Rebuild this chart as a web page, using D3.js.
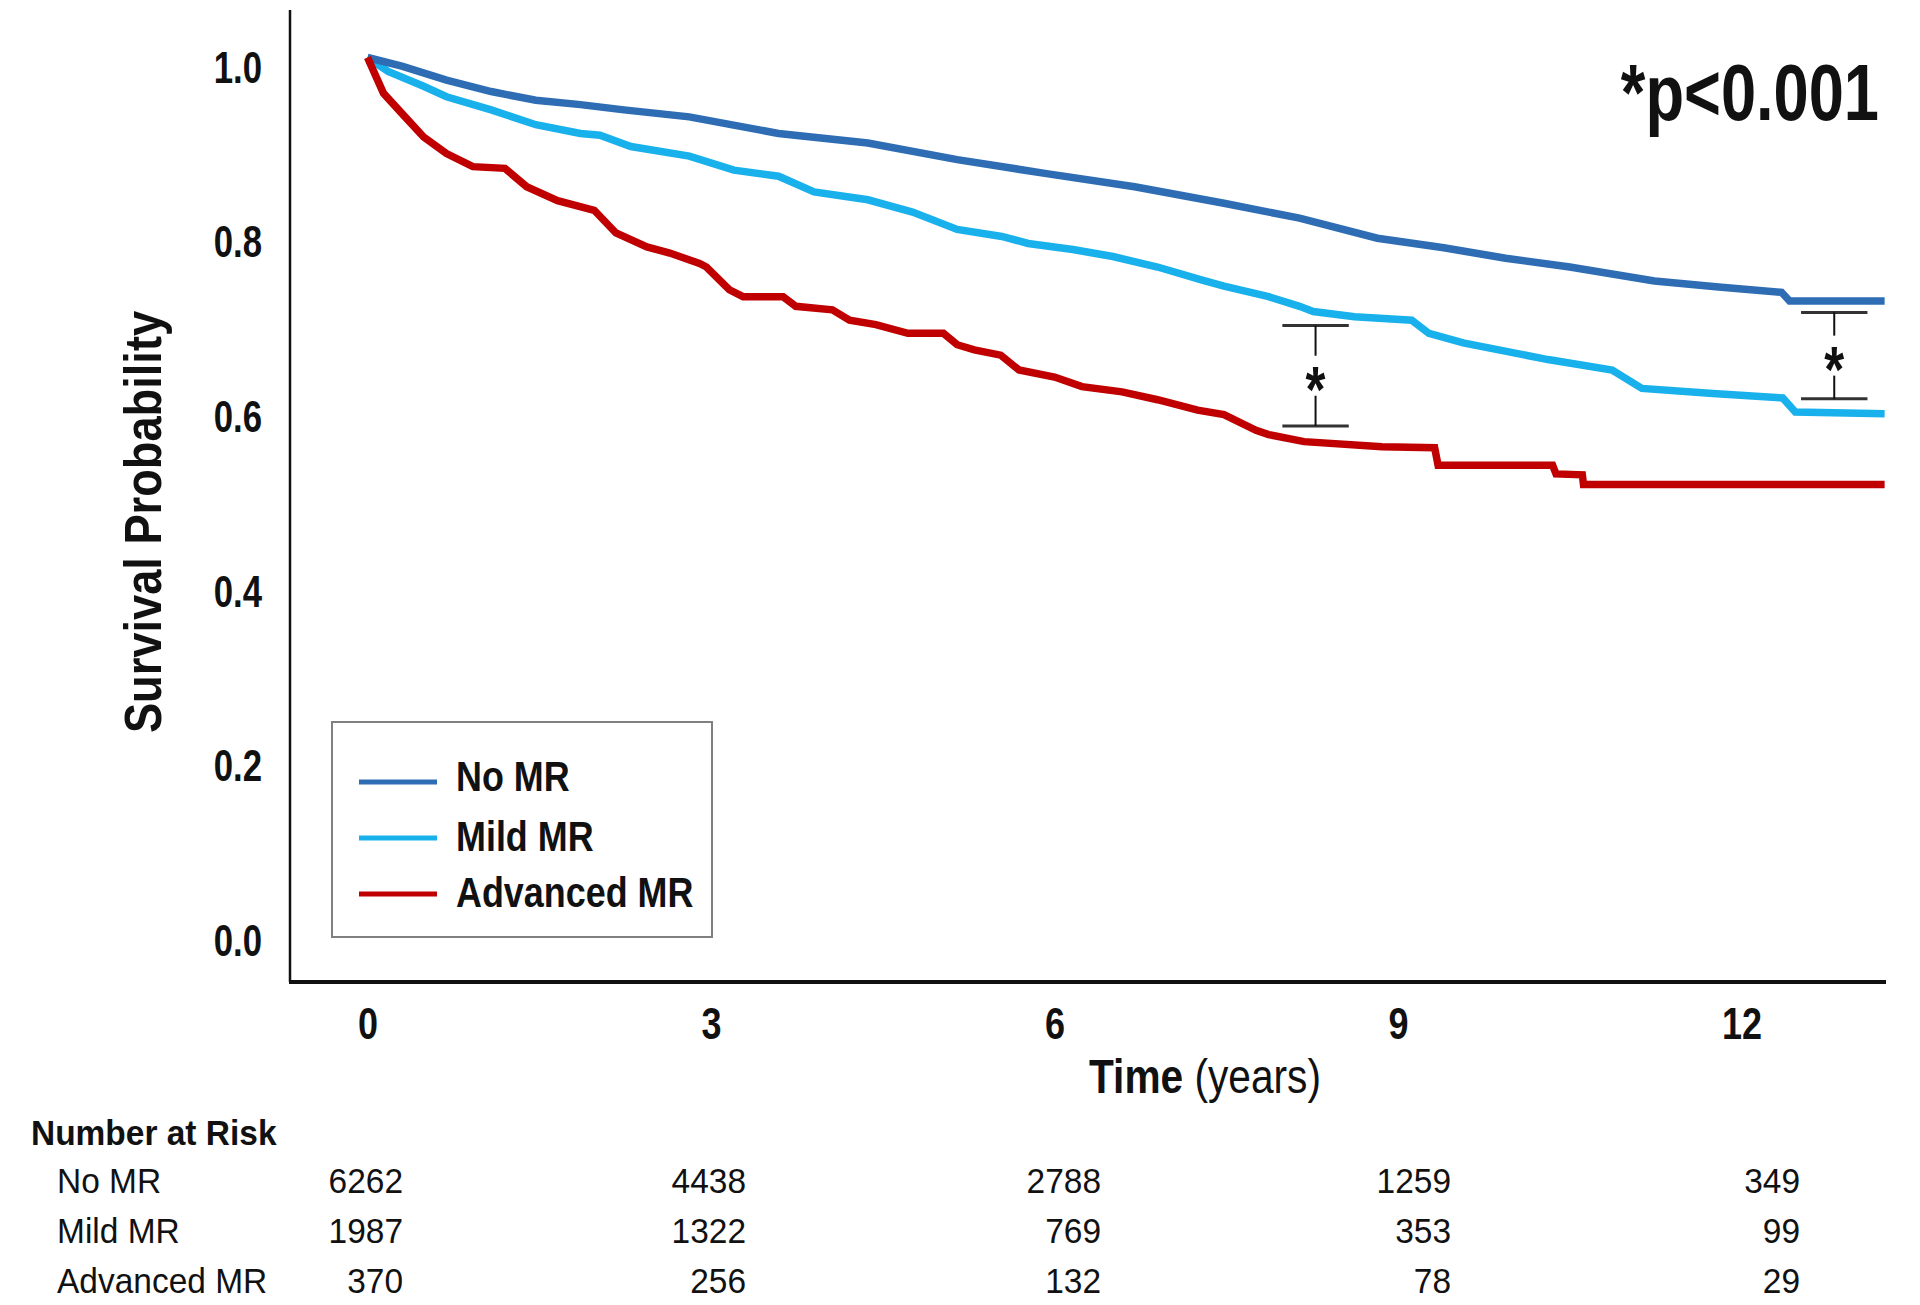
<!DOCTYPE html>
<html>
<head>
<meta charset="utf-8">
<script src="https://cdn.jsdelivr.net/npm/d3@7"></script>
<style>
  html, body { margin: 0; padding: 0; background: #ffffff; }
  svg { display: block; font-family: "Liberation Sans", Arial, Helvetica, sans-serif; }
</style>
</head>
<body>
<svg id="chart" width="1920" height="1305"></svg>
<script>
// ---------------- DATA ----------------
const categories = ["No MR", "Mild MR", "Advanced MR"];
const colors = ["#2E6DB4", "#19B1EC", "#C00000"];

// Kaplan-Meier curves: time (years) and survival probability
const noMrTime = [0, 0.30, 0.69, 1.08, 1.47, 1.86, 2.24, 2.81, 3.59, 4.37, 5.15, 5.93, 6.70, 7.48, 8.14, 8.82, 9.40, 9.94, 10.50, 11.24, 11.80, 12.35, 12.42, 13.25];
const noMrSurv = [1.0, 0.990, 0.974, 0.961, 0.951, 0.946, 0.940, 0.932, 0.913, 0.902, 0.883, 0.867, 0.852, 0.833, 0.816, 0.793, 0.782, 0.770, 0.760, 0.744, 0.737, 0.731, 0.721, 0.721];

const mildTime = [0, 0.18, 0.49, 0.69, 1.08, 1.47, 1.86, 2.03, 2.30, 2.81, 3.20, 3.59, 3.90, 4.37, 4.76, 5.15, 5.54, 5.77, 6.16, 6.51, 6.90, 7.29, 7.48, 7.87, 8.14, 8.26, 8.62, 9.12, 9.27, 9.57, 10.31, 10.87, 11.13, 11.75, 12.36, 12.47, 13.25];
const mildSurv = [1.0, 0.984, 0.967, 0.955, 0.940, 0.923, 0.913, 0.911, 0.898, 0.887, 0.871, 0.864, 0.846, 0.837, 0.823, 0.803, 0.795, 0.787, 0.780, 0.772, 0.760, 0.745, 0.738, 0.726, 0.715, 0.709, 0.703, 0.699, 0.684, 0.673, 0.654, 0.642, 0.621, 0.615, 0.610, 0.594, 0.592];

const advTime = [0, 0.14, 0.30, 0.49, 0.69, 0.92, 1.20, 1.39, 1.66, 1.98, 2.17, 2.44, 2.64, 2.90, 2.96, 3.16, 3.28, 3.63, 3.74, 4.06, 4.21, 4.44, 4.72, 5.03, 5.15, 5.30, 5.53, 5.69, 6.00, 6.24, 6.59, 6.90, 7.25, 7.48, 7.76, 7.87, 8.18, 8.86, 9.32, 9.35, 10.35, 10.38, 10.61, 10.62, 13.25];
const advSurv = [1.0, 0.959, 0.936, 0.909, 0.890, 0.875, 0.873, 0.852, 0.836, 0.825, 0.799, 0.783, 0.776, 0.764, 0.760, 0.734, 0.726, 0.726, 0.715, 0.711, 0.699, 0.694, 0.684, 0.684, 0.671, 0.665, 0.659, 0.642, 0.634, 0.623, 0.617, 0.608, 0.596, 0.591, 0.573, 0.568, 0.560, 0.554, 0.553, 0.533, 0.533, 0.523, 0.522, 0.511, 0.511];

// Axis ticks
const xTicks = [0, 3, 6, 9, 12];
const yTicks = [0.0, 0.2, 0.4, 0.6, 0.8, 1.0];

// Number at risk at each x tick
const riskNoMr = [6262, 4438, 2788, 1259, 349];
const riskMild = [1987, 1322, 769, 353, 99];
const riskAdv  = [370, 256, 132, 78, 29];

// Significance brackets (time, upper and lower survival)
const bracketTime  = [8.28, 12.81];
const bracketUpper = [0.693, 0.708];
const bracketLower = [0.578, 0.609];

const pText = "*p<0.001";

// ---------------- LAYOUT ----------------
const svg = d3.select("#chart");
const frame = { left: 290, top: 10, right: 1886, bottom: 982 };
const x = d3.scaleLinear().domain([0, 12]).range([367.5, 1741.5]);
const y = d3.scaleLinear().domain([0, 1]).range([930.5, 57.5]);
const riskX = d3.scaleLinear().domain(xTicks).range([403, 746, 1101, 1451, 1800]);

svg.append("rect").attr("width", 1920).attr("height", 1305).attr("fill", "#ffffff");

// Axis frame lines
svg.append("line")
  .attr("x1", frame.left).attr("x2", frame.left)
  .attr("y1", frame.top).attr("y2", frame.bottom)
  .attr("stroke", "#111").attr("stroke-width", 2.5);
svg.append("line")
  .attr("x1", frame.left - 1).attr("x2", frame.right)
  .attr("y1", frame.bottom).attr("y2", frame.bottom)
  .attr("stroke", "#111").attr("stroke-width", 4);

// Y axis tick labels
const yAxis = svg.append("g")
  .attr("transform", `translate(${frame.left},0)`)
  .call(d3.axisLeft(y).tickValues(yTicks).tickSize(0).tickFormat(d3.format(".1f")));
yAxis.select(".domain").remove();
yAxis.selectAll("text")
  .attr("x", 0).attr("dy", "0.36em")
  .attr("transform", "translate(-28,9) scale(0.79,1)")
  .attr("text-anchor", "end")
  .style("font-family", "'Liberation Sans', Arial, sans-serif")
  .style("font-size", "44px").style("font-weight", "bold").attr("fill", "#111");

// X axis tick labels
const xAxis = svg.append("g")
  .attr("transform", `translate(0,${frame.bottom})`)
  .call(d3.axisBottom(x).tickValues(xTicks).tickSize(0).tickFormat(d3.format("d")));
xAxis.select(".domain").remove();
xAxis.selectAll("text")
  .attr("y", 0).attr("dy", "0.36em")
  .attr("transform", "translate(0,41) scale(0.8,1)")
  .attr("text-anchor", "middle")
  .style("font-family", "'Liberation Sans', Arial, sans-serif")
  .style("font-size", "45px").style("font-weight", "bold").attr("fill", "#111");

// Axis titles
svg.append("text")
  .attr("transform", "translate(161,522) rotate(-90) scale(0.87,1)")
  .attr("text-anchor", "middle")
  .style("font-size", "52px").style("font-weight", "bold").attr("fill", "#111")
  .text("Survival Probability");

const tt = svg.append("text")
  .attr("transform", "translate(1205,1093) scale(0.83,1)")
  .attr("text-anchor", "middle")
  .style("font-size", "49px").attr("fill", "#111");
tt.append("tspan").style("font-weight", "bold").text("Time");
tt.append("tspan").style("font-weight", "normal").text(" (years)");

// Curves
const series = [
  { name: categories[1], t: mildTime, s: mildSurv, color: colors[1] },
  { name: categories[0], t: noMrTime, s: noMrSurv, color: colors[0] },
  { name: categories[2], t: advTime,  s: advSurv,  color: colors[2] }
];
const line = d3.line().x(d => x(d[0])).y(d => y(d[1])).curve(d3.curveLinear);
series.forEach(sr => {
  svg.append("path")
    .datum(sr.t.map((t, i) => [t, sr.s[i]]))
    .attr("d", line)
    .attr("fill", "none")
    .attr("stroke", sr.color)
    .attr("stroke-width", 7.5)
    .attr("stroke-linejoin", "miter")
    .attr("stroke-linecap", "butt");
});

// Significance brackets
const capHalf = 0.29;
bracketTime.forEach((t, i) => {
  const g = svg.append("g");
  const yu = y(bracketUpper[i]), yl = y(bracketLower[i]);
  const ym = (yu + yl) / 2;
  [yu, yl].forEach(yy => {
    g.append("line").attr("x1", x(t - capHalf)).attr("x2", x(t + capHalf))
      .attr("y1", yy).attr("y2", yy).attr("stroke", "#333").attr("stroke-width", 3);
  });
  g.append("line").attr("x1", x(t)).attr("x2", x(t)).attr("y1", yu).attr("y2", ym - 20)
    .attr("stroke", "#111").attr("stroke-width", 2);
  g.append("line").attr("x1", x(t)).attr("x2", x(t)).attr("y1", ym + 20).attr("y2", yl)
    .attr("stroke", "#111").attr("stroke-width", 2);
  g.append("text")
    .attr("transform", `translate(${x(t)},${ym + 36}) scale(0.8,1)`)
    .attr("text-anchor", "middle")
    .style("font-size", "64px").style("font-weight", "bold").attr("fill", "#111")
    .text("*");
});

// p-value
svg.append("text")
  .attr("transform", "translate(1879,120) scale(0.8,1)")
  .attr("text-anchor", "end")
  .style("font-size", "79px").style("font-weight", "bold").attr("fill", "#111")
  .text(pText);

// Legend
const legend = svg.append("g");
legend.append("rect")
  .attr("x", 332).attr("y", 722).attr("width", 380).attr("height", 215)
  .attr("fill", "#ffffff").attr("stroke", "#808080").attr("stroke-width", 2);
categories.forEach((c, i) => {
  const ly = 782 + i * 56;
  legend.append("line").attr("x1", 359).attr("x2", 437).attr("y1", ly).attr("y2", ly)
    .attr("stroke", colors[i]).attr("stroke-width", 5);
  legend.append("text")
    .attr("transform", `translate(456,${ly + 13 - (i === 0 ? 4 : 0)}) scale(0.855,1)`)
    .style("font-size", "42px").style("font-weight", "bold").attr("fill", "#111")
    .text(c);
});

// Number at risk table
svg.append("text")
  .attr("transform", "translate(31,1145) scale(0.93,1)")
  .style("font-size", "36px").style("font-weight", "bold").attr("fill", "#111")
  .text("Number at Risk");
const riskRows = [riskNoMr, riskMild, riskAdv];
riskRows.forEach((row, r) => {
  const by = 1193 + r * 50;
  svg.append("text").attr("transform", `translate(57,${by}) scale(0.93,1)`)
    .style("font-size", "36px").attr("fill", "#111").text(categories[r]);
  row.forEach((v, k) => {
    svg.append("text").attr("transform", `translate(${riskX(xTicks[k])},${by}) scale(0.93,1)`)
      .attr("text-anchor", "end")
      .style("font-size", "36px").attr("fill", "#111").text(v);
  });
});
</script>
</body>
</html>
